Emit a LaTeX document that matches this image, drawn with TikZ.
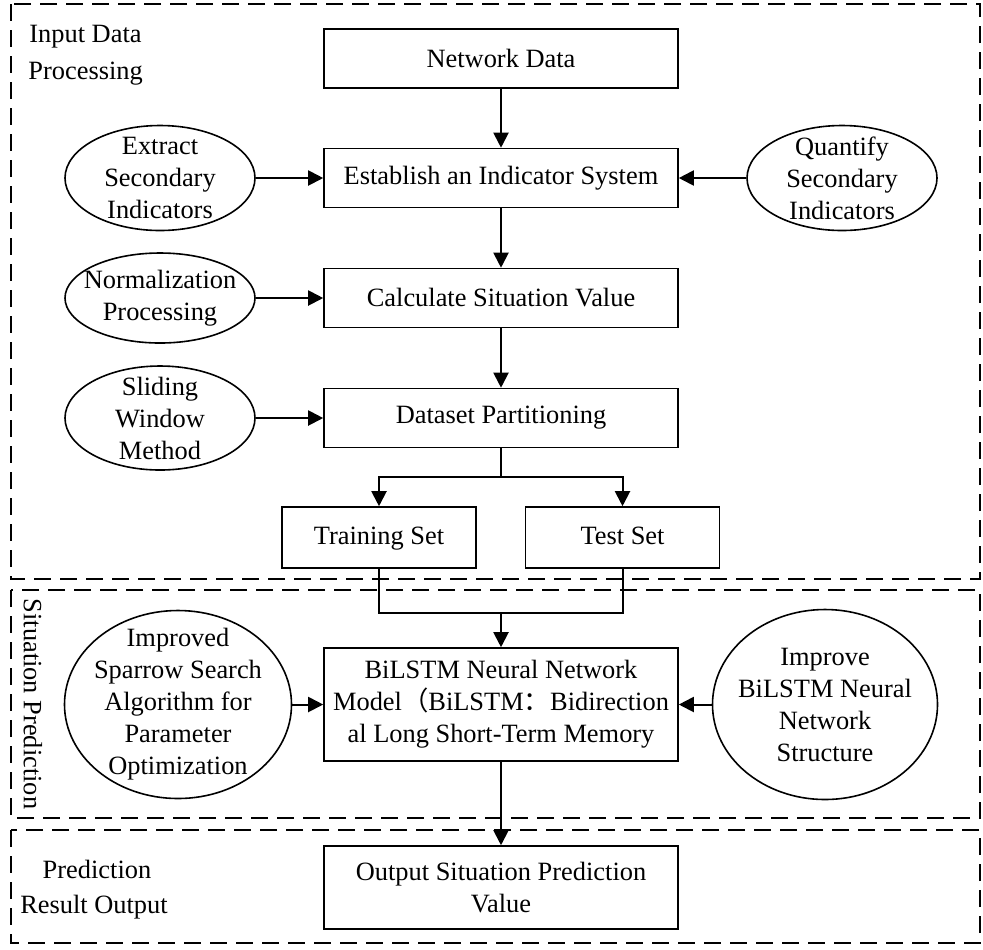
\documentclass[tikz,border=0pt]{standalone}
\usepackage{fontspec}
\setmainfont{Liberation Serif}
\newfontfamily\cjkfont{Noto Sans CJK SC}
\usepackage{tikz}
\usetikzlibrary{shapes.geometric,arrows.meta}

\tikzset{
  procbox/.style={draw,line width=0.8pt,inner sep=0pt,align=center,minimum width=177pt,minimum height=29.5pt},
  setbox/.style={procbox,minimum width=97pt,minimum height=30.5pt,text height=9.5pt,text depth=3pt},
  method/.style={draw,ellipse,line width=0.8pt,inner sep=-12pt,align=center},
  flow/.style={line width=1pt,-{Triangle[length=7.5pt,width=7.5pt]}},
  link/.style={line width=1pt},
  stage/.style={line width=0.9pt,dash pattern=on 8.5pt off 4.5pt},
  stagename/.style={inner sep=0pt}
}

\begin{document}
\begin{tikzpicture}[x=0.5pt,y=-0.5pt,every node/.style={font=\fontsize{13.2pt}{16pt}\selectfont}]
\useasboundingbox (0,0) rectangle (983,949);

%% stages
\draw[stage] (11,4) rectangle (980,579);
\draw[stage] (11,590) rectangle (980,818);
\draw[stage] (11,830) rectangle (980,943);
\node[stagename,anchor=west] (lblinput) at (29,37) {Input Data};
\node[stagename,anchor=west] (lblproc) at (28,74) {Processing};
\node[stagename,rotate=-90] (lblsit) at (33,704) {Situation Prediction};
\node[stagename] (lblpred) at (97,869) {Prediction};
\node[stagename] (lblres) at (94,907) {Result Output};

%% main flow
\node[procbox] (netdata) at (501,58.5) {Network Data};
\node[procbox] (indsys) at (501,178) {Establish an Indicator System};
\node[procbox] (sitval) at (501,298) {Calculate Situation Value};
\node[procbox] (partition) at (501,418) {Dataset Partitioning};
\node[setbox] (trainset) at (379,537.5) {Training Set};
\node[setbox] (testset) at (622.5,537.5) {Test Set};
\node[procbox,minimum height=56.5pt] (bilstm) at (501,704.5) {BiLSTM Neural Network\\Model{\cjkfont （}BiLSTM{\cjkfont ：}Bidirection\\al Long Short-Term Memory};
\node[procbox,minimum height=41.5pt] (output) at (501,887.5) {Output Situation Prediction\\Value};

%% methods
\node[method,minimum width=95pt,minimum height=52.5pt] (extract) at (160,178) {Extract\\Secondary\\Indicators};
\node[method,minimum width=95pt,minimum height=52.5pt] (quantify) at (842,178) {Quantify\\Secondary\\Indicators};
\node[method,minimum width=95pt,minimum height=45pt] (normal) at (160,298) {Normalization\\Processing};
\node[method,minimum width=95pt,minimum height=52pt] (sliding) at (160,418) {Sliding\\Window\\Method};
\node[method,minimum width=113.5pt,minimum height=94pt] (sparrow) at (178,704.5) {Improved\\Sparrow Search\\Algorithm for\\Parameter\\Optimization};
\node[method,minimum width=112.5pt,minimum height=95pt] (improve) at (825,704.5) {Improve\\BiLSTM Neural\\Network\\Structure};

%% connectors
\draw[flow] (netdata) -- (indsys);
\draw[flow] (extract.east) -- (indsys.west);
\draw[flow] (quantify.west) -- (indsys.east);
\draw[flow] (indsys) -- (sitval);
\draw[flow] (normal.east) -- (sitval.west);
\draw[flow] (sitval) -- (partition);
\draw[flow] (sliding.east) -- (partition.west);
\coordinate (split) at (501,477);
\draw[link] (partition.south) -- (split);
\draw[flow] (split) -| (trainset.north);
\draw[flow] (split) -| (testset.north);
\coordinate (merge) at (501,613);
\draw[link] (trainset.south) |- (merge) -| (testset.south);
\draw[flow] (merge) -- (bilstm.north);
\draw[flow] (sparrow.east) -- (bilstm.west);
\draw[flow] (improve.west) -- (bilstm.east);
\draw[flow] (bilstm) -- (output);
\end{tikzpicture}
\end{document}
